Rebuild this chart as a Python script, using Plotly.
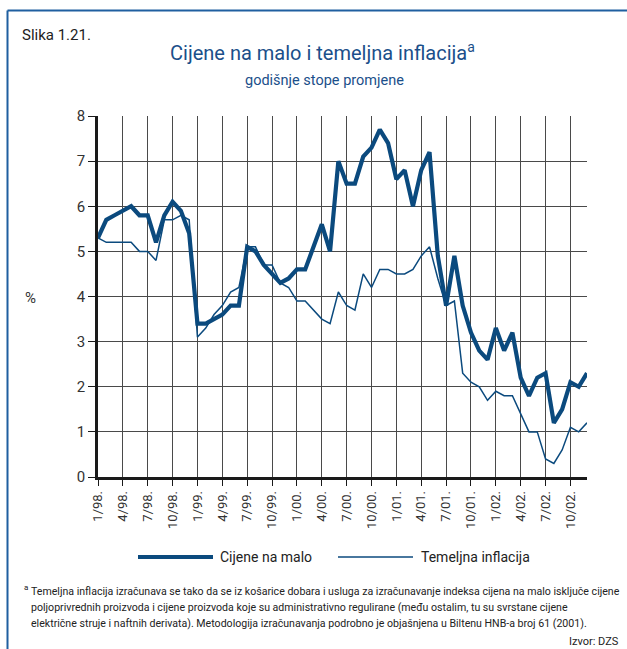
import plotly.graph_objects as go

# monthly data, 1/98 .. 12/02
years = [98, 99, 0, 1, 2]
periods = [f"{m}/{y:02d}." for y in years for m in range(1, 13)]

cijene_na_malo = [
    5.3, 5.7, 5.8, 5.9, 6.0, 5.8, 5.8, 5.2, 5.8, 6.1, 5.9, 5.4,
    3.4, 3.4, 3.5, 3.6, 3.8, 3.8, 5.1, 5.0, 4.7, 4.5, 4.3, 4.4,
    4.6, 4.6, 5.1, 5.6, 5.0, 7.0, 6.5, 6.5, 7.1, 7.3, 7.7, 7.4,
    6.6, 6.8, 6.0, 6.8, 7.2, 4.9, 3.8, 4.9, 3.8, 3.2, 2.8, 2.6,
    3.3, 2.8, 3.2, 2.2, 1.8, 2.2, 2.3, 1.2, 1.5, 2.1, 2.0, 2.3,
]
temeljna_inflacija = [
    5.3, 5.2, 5.2, 5.2, 5.2, 5.0, 5.0, 4.8, 5.7, 5.7, 5.8, 5.7,
    3.1, 3.3, 3.6, 3.8, 4.1, 4.2, 5.1, 5.1, 4.7, 4.7, 4.3, 4.2,
    3.9, 3.9, 3.7, 3.5, 3.4, 4.1, 3.8, 3.7, 4.5, 4.2, 4.6, 4.6,
    4.5, 4.5, 4.6, 4.9, 5.1, 4.4, 3.8, 3.9, 2.3, 2.1, 2.0, 1.7,
    1.9, 1.8, 1.8, 1.4, 1.0, 1.0, 0.4, 0.3, 0.6, 1.1, 1.0, 1.2,
]
tick_labels = periods[::3]
y_ticks = list(range(0, 9))

FONT = "Roboto, Liberation Sans, sans-serif"
BLUE = "#0b4a7e"
TITLE_BLUE = "#1b4f8a"

W, H = 627, 649
L, R, T, B = 98, 40, 116, 172
PW, PH = W - L - R, H - T - B


def px(x):
    return (x - L) / PW


def py(y):
    return (H - B - y) / PH


fig = go.Figure()
fig.add_trace(go.Scatter(x=periods, y=cijene_na_malo, mode="lines",
                         line=dict(color=BLUE, width=4.2), name="Cijene na malo"))
fig.add_trace(go.Scatter(x=periods, y=temeljna_inflacija, mode="lines",
                         line=dict(color=BLUE, width=1.5), name="Temeljna inflacija"))

fig.update_xaxes(
    type="category", range=[0, len(periods) - 1],
    tickmode="array", tickvals=tick_labels, ticktext=tick_labels,
    tickangle=-90, tickfont=dict(family=FONT, size=13, color="#333"),
    showgrid=True, gridcolor="#4a4a4a", gridwidth=1,
    showline=True, linecolor="#1a1a1a", linewidth=2.5,
    ticks="outside", ticklen=6, tickcolor="#1a1a1a", zeroline=False,
)
fig.update_yaxes(
    range=[0, 8], tickvals=y_ticks,
    tickfont=dict(family=FONT, size=15, color="#333"),
    showgrid=True, gridcolor="#4a4a4a", gridwidth=1,
    showline=True, linecolor="#1a1a1a", linewidth=2.5,
    ticks="outside", ticklen=7, tickcolor="#1a1a1a", zeroline=False,
)

# frame: top and left border
shapes = [
    dict(type="line", xref="paper", yref="paper", x0=px(7.5), x1=px(W + 5),
         y0=py(10.5), y1=py(10.5), line=dict(color="#1f5fa0", width=2)),
    dict(type="line", xref="paper", yref="paper", x0=px(7.5), x1=px(7.5),
         y0=py(10.5), y1=py(H + 5), line=dict(color="#1f5fa0", width=2)),
    # legend lines
    dict(type="line", xref="paper", yref="paper", x0=px(138), x1=px(213),
         y0=py(557), y1=py(557), line=dict(color=BLUE, width=4.2)),
    dict(type="line", xref="paper", yref="paper", x0=px(338), x1=px(413),
         y0=py(557), y1=py(557), line=dict(color=BLUE, width=1.5)),
]

footnote_lines = [
    "Temeljna inflacija izračunava se tako da se iz košarice dobara i usluga za izračunavanje "
    "indeksa cijena na malo isključe cijene",
    "poljoprivrednih proizvoda i cijene proizvoda koje su administrativno regulirane (među ostalim, "
    "tu su svrstane cijene",
    "električne struje i naftnih derivata). Metodologija izračunavanja podrobno je objašnjena "
    "u Biltenu HNB-a broj 61 (2001).",
]

annotations = [
    dict(text="Slika 1.21.", x=px(20), y=py(35), xanchor="left", yanchor="middle",
         font=dict(family=FONT, size=15, color="#222")),
    dict(text="Cijene na malo i temeljna inflacija<sup>a</sup>", x=px(322), y=py(52),
         xanchor="center", yanchor="middle", font=dict(family=FONT, size=20, color=TITLE_BLUE)),
    dict(text="godišnje stope promjene", x=px(324), y=py(80), xanchor="center", yanchor="middle",
         font=dict(family=FONT, size=14.5, color=TITLE_BLUE)),
    dict(text="%", x=px(30), y=py(298), xanchor="center", yanchor="middle",
         font=dict(family=FONT, size=15, color="#333")),
    dict(text="Cijene na malo", x=px(218), y=py(557), xanchor="left", yanchor="middle",
         font=dict(family=FONT, size=14, color="#222")),
    dict(text="Temeljna inflacija", x=px(419), y=py(557), xanchor="left", yanchor="middle",
         font=dict(family=FONT, size=14, color="#222")),
    dict(text="a", x=px(22), y=py(587), xanchor="left", yanchor="middle",
         font=dict(family=FONT, size=8, color="#222")),
    dict(text="Izvor: DZS", x=px(621), y=py(641), xanchor="right", yanchor="middle",
         font=dict(family=FONT, size=11, color="#222")),
]
for i, line in enumerate(footnote_lines):
    annotations.append(dict(text=line, x=px(29), y=py(591 + 16 * i), xanchor="left",
                            yanchor="middle", font=dict(family=FONT, size=10.6, color="#222")))
for a in annotations:
    a.update(xref="paper", yref="paper", showarrow=False)

fig.update_layout(
    width=W, height=H, margin=dict(l=L, r=R, t=T, b=B),
    paper_bgcolor="white", plot_bgcolor="white",
    showlegend=False, shapes=shapes, annotations=annotations,
    font=dict(family=FONT),
)

fig.write_html("out.html", config={"displayModeBar": False},
               post_script="document.body.style.margin='0';")
